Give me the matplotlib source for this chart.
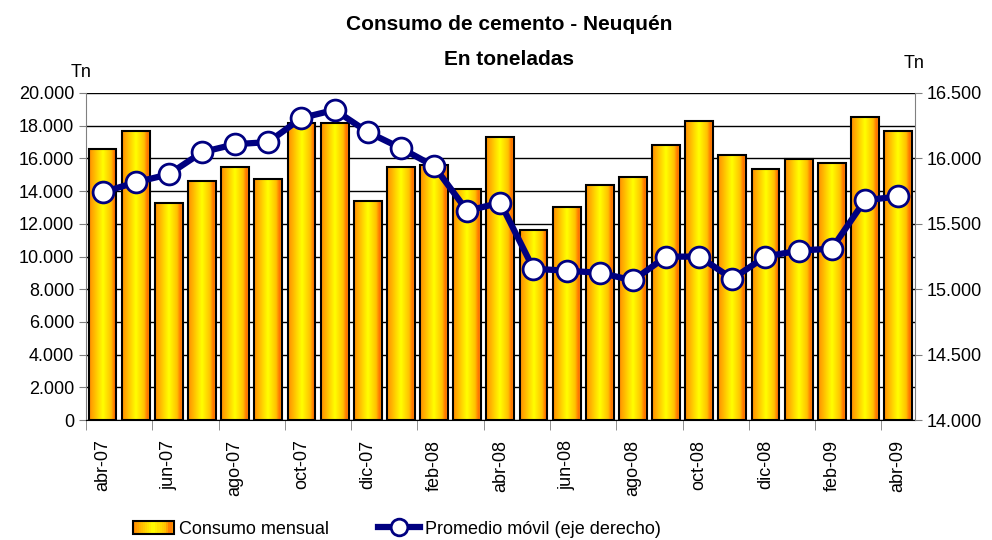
import matplotlib
matplotlib.use("Agg")
import matplotlib.pyplot as plt
import numpy as np
from matplotlib.colors import LinearSegmentedColormap
from matplotlib.patches import Rectangle
from matplotlib.lines import Line2D
from matplotlib.legend_handler import HandlerBase

plt.rcParams['font.family'] = ['Liberation Sans', 'DejaVu Sans']

months = ["abr-07", "may-07", "jun-07", "jul-07", "ago-07", "sep-07", "oct-07",
          "nov-07", "dic-07", "ene-08", "feb-08", "mar-08", "abr-08", "may-08",
          "jun-08", "jul-08", "ago-08", "sep-08", "oct-08", "nov-08", "dic-08",
          "ene-09", "feb-09", "mar-09", "abr-09"]
consumo = [16580, 17690, 13250, 14600, 15450, 14720, 18160, 18160, 13370, 15450,
           15580, 14100, 17300, 11650, 13000, 14350, 14860, 16810, 18300, 16190,
           15350, 15970, 15700, 18550, 17690]
promedio = [15740, 15817, 15878, 16047, 16108, 16124, 16308, 16370, 16201, 16078,
            15940, 15599, 15661, 15157, 15141, 15126, 15067, 15249, 15249, 15080,
            15249, 15295, 15310, 15679, 15709]
left_ticks = np.arange(0, 20001, 2000)
right_ticks = np.arange(14000, 16501, 500)

# orange - yellow - orange shading of the bars
grad_cmap = LinearSegmentedColormap.from_list(
    "bar", [(0, "#ff8c00"), (0.15, "#ffb000"), (0.5, "#ffff00"),
            (0.8, "#ffc000"), (0.92, "#ff7000"), (1, "#ff9a00")])
grad = np.linspace(0, 1, 64).reshape(1, -1)

def fmt(v):
    return f"{int(v):,}".replace(",", ".")

fig = plt.figure(figsize=(9.92, 5.4), dpi=100)
ax = fig.add_axes([0.0867, 0.222, 0.8353, 0.606])
x = np.arange(len(months))
w = 0.84
for xi, v in zip(x, consumo):
    ax.imshow(grad, cmap=grad_cmap, aspect="auto",
              extent=(xi - w / 2, xi + w / 2, 0, v), zorder=2)
    ax.add_patch(Rectangle((xi - w / 2, 0), w, v, fill=False,
                           edgecolor="black", linewidth=1.5, zorder=3))
ax.set_xlim(-0.5, len(months) - 0.5)
ax.set_ylim(0, 20000)
ax.set_yticks(left_ticks)
ax.set_yticklabels([fmt(t) for t in left_ticks], fontsize=13)
ax.yaxis.grid(True, color="black", linewidth=1)
ax.set_axisbelow(True)
ax.set_xticks(x[::2])
ax.set_xticklabels(months[::2], rotation=90, fontsize=13)
ax.tick_params(axis="x", length=0, pad=14)
ax.set_xticks(np.arange(-0.5, len(months), 2), minor=True)
ax.tick_params(axis="x", which="minor", length=7, color="gray")
ax.tick_params(axis="y", length=5, color="gray")
for s in ["top", "right"]:
    ax.spines[s].set_visible(False)
ax.spines["left"].set_color("gray")
ax.spines["bottom"].set_color("black")

ax2 = ax.twinx()
ax2.plot(x, promedio, color="#000080", linewidth=4.5, marker="o",
         markersize=15, markerfacecolor="white", markeredgecolor="#000080",
         markeredgewidth=2, zorder=5)
ax2.set_ylim(14000, 16500)
ax2.set_yticks(right_ticks)
ax2.set_yticklabels([fmt(t) for t in right_ticks], fontsize=13)
ax2.tick_params(axis="y", length=5, color="gray")
for s in ["top", "left", "bottom"]:
    ax2.spines[s].set_visible(False)
ax2.spines["right"].set_color("gray")

fig.text(0.513, 0.955, "Consumo de cemento - Neuquén", ha="center", va="center",
         fontsize=15, fontweight="bold")
fig.text(0.513, 0.89, "En toneladas", ha="center", va="center",
         fontsize=15, fontweight="bold")
fig.text(0.082, 0.865, "Tn", ha="center", va="center", fontsize=13)
fig.text(0.921, 0.883, "Tn", ha="center", va="center", fontsize=13)

class GradHandler(HandlerBase):
    def create_artists(self, legend, orig, xd, yd, width, height, fontsize, trans):
        arts = []
        n = 20
        for i in range(n):
            arts.append(Rectangle((xd + width * i / n, yd), width / n + 0.3, height,
                                  facecolor=grad_cmap(i / (n - 1)), edgecolor="none",
                                  transform=trans))
        arts.append(Rectangle((xd, yd), width, height, fill=False,
                              edgecolor="black", linewidth=1.5, transform=trans))
        return arts

bar_handle = Rectangle((0, 0), 1, 1)
line_handle = Line2D([], [], color="#000080", linewidth=4.5, marker="o",
                     markersize=12, markerfacecolor="white",
                     markeredgecolor="#000080", markeredgewidth=2)
fig.legend([bar_handle, line_handle], ["Consumo mensual", "Promedio móvil (eje derecho)"],
           handler_map={Rectangle: GradHandler()}, loc="center",
           bbox_to_anchor=(0.40, 0.02), ncol=2, frameon=False, fontsize=13,
           handlelength=2.3, columnspacing=2.7, handletextpad=0.3)

fig.savefig("out.png", dpi=100)
